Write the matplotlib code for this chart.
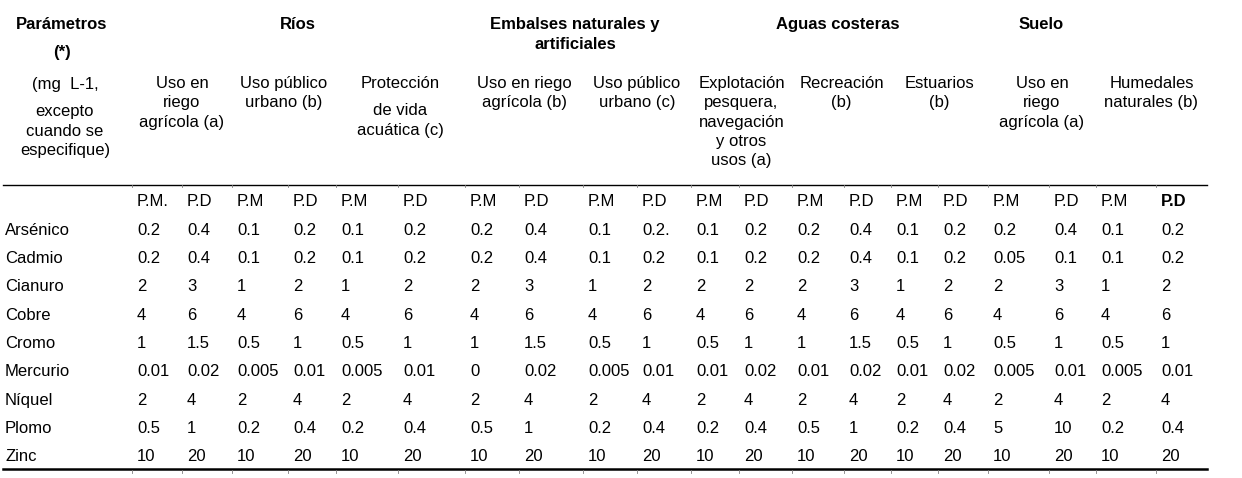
import matplotlib
matplotlib.use('Agg')
import matplotlib.pyplot as plt

# ====== data
params = ['Arsénico', 'Cadmio', 'Cianuro', 'Cobre', 'Cromo', 'Mercurio', 'Níquel', 'Plomo', 'Zinc']
sub_cols = ['P.M.', 'P.D', 'P.M', 'P.D', 'P.M', 'P.D', 'P.M', 'P.D', 'P.M', 'P.D',
            'P.M', 'P.D', 'P.M', 'P.D', 'P.M', 'P.D', 'P.M', 'P.D', 'P.M', 'P.D']
arsenico = ['0.2', '0.4', '0.1', '0.2', '0.1', '0.2', '0.2', '0.4', '0.1', '0.2.',
            '0.1', '0.2', '0.2', '0.4', '0.1', '0.2', '0.2', '0.4', '0.1', '0.2']
cadmio = ['0.2', '0.4', '0.1', '0.2', '0.1', '0.2', '0.2', '0.4', '0.1', '0.2',
          '0.1', '0.2', '0.2', '0.4', '0.1', '0.2', '0.05', '0.1', '0.1', '0.2']
cianuro = ['2', '3', '1', '2', '1', '2', '2', '3', '1', '2',
           '2', '2', '2', '3', '1', '2', '2', '3', '1', '2']
cobre = ['4', '6'] * 10
cromo = ['1', '1.5', '0.5', '1', '0.5', '1', '1', '1.5', '0.5', '1',
         '0.5', '1', '1', '1.5', '0.5', '1', '0.5', '1', '0.5', '1']
mercurio = ['0.01', '0.02', '0.005', '0.01', '0.005', '0.01', '0', '0.02', '0.005', '0.01',
            '0.01', '0.02', '0.01', '0.02', '0.01', '0.02', '0.005', '0.01', '0.005', '0.01']
niquel = ['2', '4'] * 10
plomo = ['0.5', '1', '0.2', '0.4', '0.2', '0.4', '0.5', '1', '0.2', '0.4',
         '0.2', '0.4', '0.5', '1', '0.2', '0.4', '5', '10', '0.2', '0.4']
zinc = ['10', '20'] * 10
rows = [arsenico, cadmio, cianuro, cobre, cromo, mercurio, niquel, plomo, zinc]

groups = [['Ríos'], ['Embalses naturales y', 'artificiales'], ['Aguas costeras'], ['Suelo']]
uses = [['Uso en', 'riego', 'agrícola (a)'], ['Uso público', 'urbano (b)'],
        ['Protección', None, 'de vida', 'acuática (c)'],
        ['Uso en riego', 'agrícola (b)'], ['Uso público', 'urbano (c)'],
        ['Explotación', 'pesquera,', 'navegación', 'y otros', 'usos (a)'],
        ['Recreación', '(b)'], ['Estuarios', '(b)'],
        ['Uso en', 'riego', 'agrícola (a)'], ['Humedales', 'naturales (b)']]
units = ['(mg  L-1,', None, 'excepto', 'cuando se', 'especifique)']

# ====== layout (pixels)
W, H = 1242, 478
col_left = [132, 182, 232, 288, 336, 398, 465, 519, 583, 637,
            691, 739, 792, 844, 891, 938, 988, 1049, 1096, 1156, 1207]
pad = 5
group_center = [298, 575, 838, 1041]
use_span = [(0, 2), (2, 4), (4, 6), (6, 8), (8, 10), (10, 12), (12, 14), (14, 16), (16, 18), (18, 20)]
y_sub = 202
row_h = 28.3
line_h = 19.5


def stack(x, y0, lines, step, **kw):
    # blank entries (None) give a short gap instead of a full line
    y = y0
    for ln in lines:
        if ln is None:
            y += 8
            continue
        ax.text(x, y, ln, ha='center', va='center', **kw)
        y += step


plt.rcParams['font.family'] = ['Liberation Sans', 'DejaVu Sans']
fs = 12
fig = plt.figure(figsize=(W / 100, H / 100), dpi=100)
ax = fig.add_axes([0, 0, 1, 1])
ax.set_xlim(0, W)
ax.set_ylim(H, 0)
ax.axis('off')

# header
ax.text(62, 24, 'Parámetros', ha='center', va='center', fontsize=fs, fontweight='bold')
ax.text(62, 52, '(*)', ha='center', va='center', fontsize=fs, fontweight='bold')
stack(65, 84, units, line_h, fontsize=fs)
for g, xc in zip(groups, group_center):
    stack(xc, 24, g, 20, fontsize=fs, fontweight='bold')
for u, (a, b) in zip(uses, use_span):
    xc = (col_left[a] + col_left[b]) / 2
    stack(xc, 83, u, line_h, fontsize=fs)

# rules
ax.plot([3, 1207], [185, 185], color='black', lw=1.0)
ax.plot([3, 1207], [469, 469], color='black', lw=1.8)
for x in col_left[:-1]:
    ax.plot([x, x], [185, 187], color='0.5', lw=0.6)
    ax.plot([x, x], [470, 473], color='0.5', lw=0.6)

# sub header
for i, s in enumerate(sub_cols):
    bold = 'bold' if i == len(sub_cols) - 1 else 'normal'
    ax.text(col_left[i] + pad, y_sub, s, ha='left', va='center', fontsize=fs, fontweight=bold)

# body
for r, (p, vals) in enumerate(zip(params, rows)):
    y = y_sub + (r + 1) * row_h
    ax.text(5, y, p, ha='left', va='center', fontsize=fs)
    for i, v in enumerate(vals):
        ax.text(col_left[i] + pad, y, v, ha='left', va='center', fontsize=fs)

fig.savefig('out.png', dpi=100)
